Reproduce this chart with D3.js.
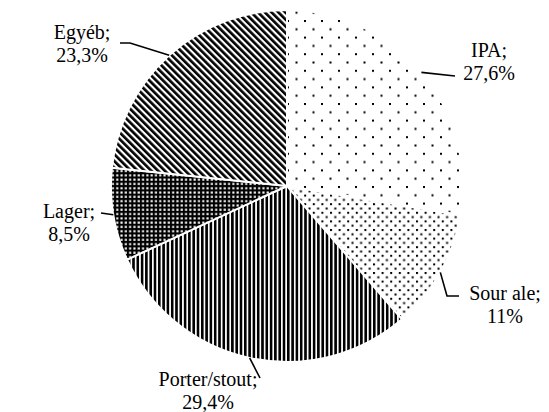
<!DOCTYPE html>
<html>
<head>
<meta charset="utf-8">
<script src="https://cdn.jsdelivr.net/npm/d3@7"></script>
<style>
  html, body { margin: 0; padding: 0; background: #fff; }
  svg { display: block; }
</style>
</head>
<body>
<svg id="chart" width="549" height="412"></svg>
<script>
// Beer style shares (%)
const categories = ["IPA", "Sour ale", "Porter/stout", "Lager", "Egyéb"];
const values = [27.6, 11, 29.4, 8.5, 23.3];
const valueLabels = ["27,6%", "11%", "29,4%", "8,5%", "23,3%"];
const patternIds = ["pIPA", "pSour", "pPorter", "pLager", "pEgyeb"];

const width = 549, height = 412;
const cx = 287, cy = 186, radius = 176;

const svg = d3.select("#chart");
const defs = svg.append("defs");

// Sparse dot grid
const p1 = defs.append("pattern").attr("id", "pIPA").attr("patternUnits", "userSpaceOnUse")
  .attr("width", 17).attr("height", 16.6);
p1.append("rect").attr("width", 17).attr("height", 16.6).attr("fill", "#fff");
p1.append("rect").attr("x", 0).attr("y", 0).attr("width", 2).attr("height", 2).attr("fill", "#000");
p1.append("rect").attr("x", 8.5).attr("y", 8.3).attr("width", 2).attr("height", 2).attr("fill", "#000");

// Denser dot grid
const p2 = defs.append("pattern").attr("id", "pSour").attr("patternUnits", "userSpaceOnUse")
  .attr("width", 8.6).attr("height", 8.6);
p2.append("rect").attr("width", 8.6).attr("height", 8.6).attr("fill", "#fff");
p2.append("rect").attr("x", 0).attr("y", 0).attr("width", 2).attr("height", 2).attr("fill", "#000");
p2.append("rect").attr("x", 4.3).attr("y", 4.3).attr("width", 2).attr("height", 2).attr("fill", "#000");

// Vertical stripes
const p3 = defs.append("pattern").attr("id", "pPorter").attr("patternUnits", "userSpaceOnUse")
  .attr("width", 4.3).attr("height", 10);
p3.append("rect").attr("width", 4.3).attr("height", 10).attr("fill", "#fff");
p3.append("rect").attr("x", 0).attr("y", 0).attr("width", 2.6).attr("height", 10).attr("fill", "#000");

// Black with small white squares
const p4 = defs.append("pattern").attr("id", "pLager").attr("patternUnits", "userSpaceOnUse")
  .attr("width", 4.3).attr("height", 4.3);
p4.append("rect").attr("width", 4.3).attr("height", 4.3).attr("fill", "#000");
p4.append("rect").attr("x", 1.2).attr("y", 1.2).attr("width", 2.1).attr("height", 2.1).attr("fill", "#fff");

// Downward diagonal stripes
const dp = 6.8 / Math.SQRT2;
const p5 = defs.append("pattern").attr("id", "pEgyeb").attr("patternUnits", "userSpaceOnUse")
  .attr("width", dp).attr("height", 10).attr("patternTransform", "rotate(-45)");
p5.append("rect").attr("width", dp).attr("height", 10).attr("fill", "#fff");
p5.append("rect").attr("x", 0).attr("y", 0).attr("width", dp * 0.55).attr("height", 10).attr("fill", "#000");

const data = categories.map((c, i) => ({ category: c, value: values[i], label: valueLabels[i], pattern: patternIds[i] }));

const pie = d3.pie().value(d => d.value).sort(null);
const arcs = pie(data);
const arc = d3.arc().innerRadius(0).outerRadius(radius);

const g = svg.append("g").attr("transform", `translate(${cx},${cy})`);

g.selectAll("path.slice")
  .data(arcs)
  .join("path")
  .attr("class", "slice")
  .attr("d", arc)
  .attr("fill", d => `url(#${d.data.pattern})`)
  .attr("stroke", "#fff")
  .attr("stroke-width", 2)
  .attr("stroke-linejoin", "round");

// Label layout: centre x and baseline of each text line, plus leader path points
const labelLayout = {
  "IPA":          { x: 489, y: 57, leader: [[455, 76]] },
  "Sour ale":     { x: 505, y: 300, leader: [[447, 296], [459, 296]] },
  "Porter/stout": { x: 208, y: 386, leader: [[260, 378]] },
  "Lager":        { x: 69, y: 218, leader: [[101, 213]] },
  "Egyéb":        { x: 82, y: 39, leader: [[130, 43], [120, 43]] }
};
const lineGap = 23;

arcs.forEach(a => {
  const lay = labelLayout[a.data.category];
  const mid = (a.startAngle + a.endAngle) / 2;
  const edge = [cx + Math.sin(mid) * radius, cy - Math.cos(mid) * radius];
  const pts = [edge].concat(lay.leader);
  svg.append("path")
    .attr("d", d3.line()(pts))
    .attr("fill", "none")
    .attr("stroke", "#000")
    .attr("stroke-width", 1.6);
  [a.data.category + ";", a.data.label].forEach((line, k) => {
    svg.append("text")
      .attr("x", lay.x)
      .attr("y", lay.y + k * lineGap)
      .attr("text-anchor", "middle")
      .attr("font-size", 20)
      .style("font-family", "'Liberation Serif'")
      .text(line);
  });
});
</script>
</body>
</html>
